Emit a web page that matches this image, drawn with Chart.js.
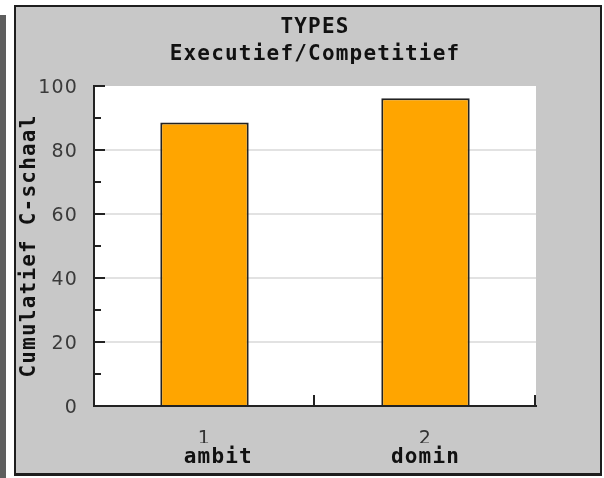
<!DOCTYPE html>
<html>
<head>
<meta charset="utf-8">
<script src="https://cdn.jsdelivr.net/npm/chart.js@4.4.1/dist/chart.umd.min.js"></script>
<style>
  html, body { margin: 0; padding: 0; background: #fff; }
  body { width: 604px; height: 478px; position: relative; overflow: hidden; }
  .strip { position: absolute; left: 0; top: 15px; width: 6px; height: 463px; background: #5e5e5e; }
  .panel {
    position: absolute; left: 14px; top: 5px;
    width: 584px; height: 466px;
    background: #c8c8c8;
    border: 2px solid #1e1e1e;
    border-bottom-width: 3px;
  }
  canvas { display: block; }
</style>
</head>
<body>
<div class="strip"></div>
<div class="panel"><canvas id="chart" width="584" height="466"></canvas></div>
<script>
// chart data
const titleLines = ['TYPES', 'Executief/Competitief'];
const yTitle = 'Cumulatief C-schaal';
const numbers = ['1', '2'];
const names = ['  ambit', 'domin'];
const values = [88.6, 96.2];

const mono = "'DejaVu Sans Mono', monospace";
const sans = "'DejaVu Sans', sans-serif";

// white plot area behind the bars, plus the wide letter spacing of the original
const plotBg = {
  id: 'plotBg',
  beforeDraw(chart) {
    const { ctx, chartArea: a } = chart;
    ctx.letterSpacing = '1.2px';
    ctx.save();
    ctx.fillStyle = '#fff';
    ctx.fillRect(a.left, a.top, a.right - a.left, a.bottom - a.top);
    ctx.restore();
  }
};

// tick marks pointing into the plot area
const innerTicks = {
  id: 'innerTicks',
  afterDraw(chart) {
    const { ctx, chartArea: a, scales } = chart;
    ctx.save();
    ctx.strokeStyle = '#222';
    ctx.lineWidth = 2;
    ctx.beginPath();
    scales.y.ticks.forEach(t => {
      const y = Math.round(scales.y.getPixelForValue(t.value));
      const len = t.value % 20 === 0 ? 11 : 7;
      ctx.moveTo(a.left, y);
      ctx.lineTo(a.left + len, y);
    });
    for (let i = 0; i < numbers.length; i++) {
      const x = Math.round(scales.x.getPixelForValue(i + 0.5)) - 1;
      ctx.moveTo(x, a.bottom);
      ctx.lineTo(x, a.bottom - 11);
    }
    ctx.stroke();
    ctx.restore();
  }
};

new Chart(document.getElementById('chart'), {
  type: 'bar',
  data: {
    labels: numbers,
    datasets: [{
      data: values,
      backgroundColor: '#ffa500',
      borderColor: '#222',
      borderWidth: 2,
      barPercentage: 0.4,
      categoryPercentage: 1
    }]
  },
  plugins: [plotBg, innerTicks],
  options: {
    responsive: false,
    animation: false,
    layout: { padding: { left: 0, right: 64, top: 0, bottom: 0 } },
    plugins: {
      legend: { display: false },
      tooltip: { enabled: false },
      title: {
        display: true,
        text: titleLines,
        fullSize: false,
        color: '#111',
        font: { family: mono, size: 21, weight: 'bold', lineHeight: 27 / 21 },
        padding: { top: 7, bottom: 18 }
      }
    },
    scales: {
      x: {
        type: 'category',
        offset: true,
        weight: 0,
        grid: { display: false, drawTicks: false },
        border: { display: true, color: '#222', width: 2 },
        ticks: { color: '#333', font: { family: sans, size: 19 }, padding: 22, maxRotation: 0 },
        afterFit: s => { s.height = 37; }
      },
      x2: {
        type: 'category',
        position: 'bottom',
        labels: names,
        offset: true,
        weight: 1,
        grid: { display: false, drawTicks: false },
        border: { display: false },
        ticks: { color: '#111', font: { family: mono, size: 21, weight: 'bold' }, padding: 2, maxRotation: 0 },
        afterFit: s => { s.height = 30; }
      },
      y: {
        min: 0,
        max: 100,
        grid: {
          drawTicks: false,
          lineWidth: 2,
          color: c => {
            const v = c.tick ? c.tick.value : 0;
            return (v % 20 === 0 && v > 0 && v < 100) ? '#e2e2e2' : 'rgba(0,0,0,0)';
          }
        },
        border: { display: true, color: '#222', width: 2 },
        ticks: {
          stepSize: 10,
          autoSkip: false,
          color: '#3a3a3a',
          font: { family: sans, size: 19 },
          padding: 16,
          labelOffset: 2,
          callback: v => (v % 20 === 0 ? v : '')
        },
        title: {
          display: true,
          text: yTitle,
          color: '#111',
          font: { family: mono, size: 21, weight: 'bold' },
          padding: { top: 1, bottom: 0 }
        },
        afterFit: s => { s.width = 78; }
      }
    }
  }
});
</script>
</body>
</html>
